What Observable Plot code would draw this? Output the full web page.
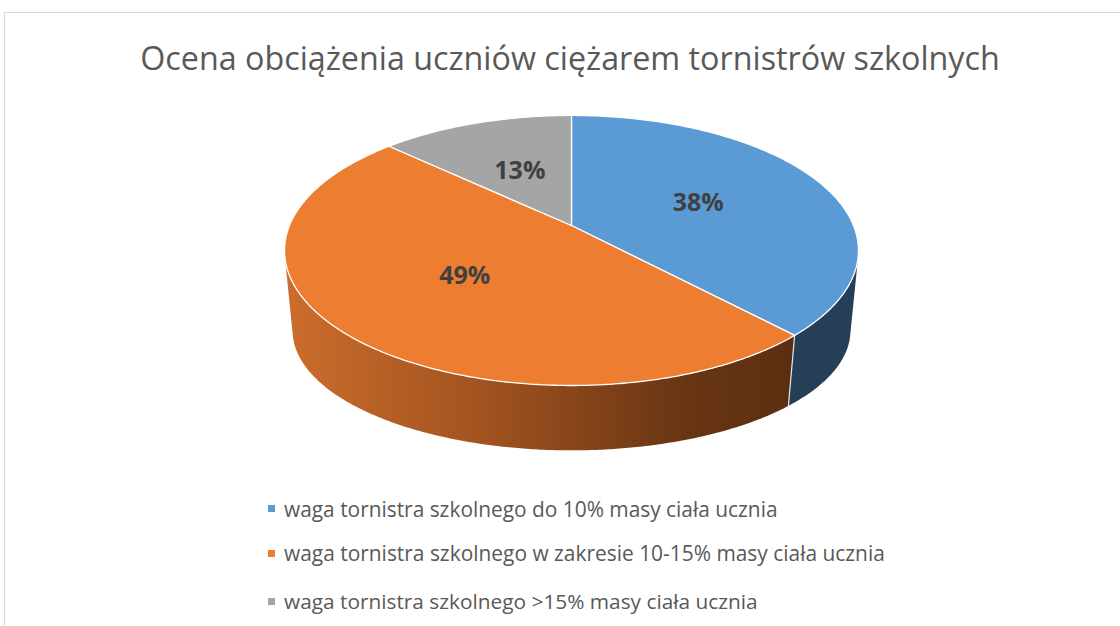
<!DOCTYPE html>
<html>
<head>
<meta charset="utf-8">
<script src="https://cdn.jsdelivr.net/npm/d3@7"></script>
<script src="https://cdn.jsdelivr.net/npm/@observablehq/plot@0.6"></script>
<style>
  html, body { margin: 0; padding: 0; background: #fff; overflow: hidden; }
  #wrap { position: relative; width: 1120px; height: 626px; overflow: hidden; }
  #frame { position: absolute; left: 4px; top: 12px; width: 1200px; height: 700px; border: 1.5px solid #d9d9d9; box-sizing: border-box; }
  #title { position: absolute; left: 10px; width: 1120px; top: 41px; text-align: center; font-family: "Open Sans", sans-serif; font-weight: 400; color: #595959; white-space: nowrap; line-height: 1; }
  #title span { display: inline-block; }
  #chart { position: absolute; left: 0; top: 100px; }
  .leg { position: absolute; left: 268px; font-family: "Open Sans", sans-serif; color: #595959; white-space: nowrap; display: flex; align-items: center; line-height: 1; }
  .leg i { display: inline-block; width: 7px; height: 7px; margin-right: 9px; }
</style>
</head>
<body>
<div id="wrap">
  <div id="frame"></div>
  <div id="chart"></div>
  <div id="title"><span></span></div>
  <div id="legend"></div>
</div>
<script>
// ---- data ----
const titleText = "Ocena obciążenia uczniów ciężarem tornistrów szkolnych";
const categories = [
  "waga tornistra szkolnego do 10% masy ciała ucznia",
  "waga tornistra szkolnego w zakresie 10-15% masy ciała ucznia",
  "waga tornistra szkolnego >15% masy ciała ucznia"
];
const values = [38, 49, 13];
const labels = ["38%", "49%", "13%"];
const colors = ["#5B9BD5", "#ED7D31", "#A5A5A5"];
const sideColors = ["#243F57", "url(#sideOrange)", "#6E6E6E"];

// ---- perspective model of the 3D pie (unit circle) ----
const m = 0.185;
const botScaleU = 0.972, botScaleV = 0.887, botShift = 0.636;
function proj(a, r, bottom) {
  const X = r * Math.sin(a), Z = -r * Math.cos(a);
  const den = 1 - m * Z;
  let u = X / den, v = Z / den;
  if (bottom) { u = u * botScaleU; v = v * botScaleV + botShift; }
  return {u, v};
}
// silhouette angles of the side wall
function silhouette(lo, hi) {
  const f = t => {
    const T = proj(t, 1, false), B = proj(t, 1, true);
    const p = proj(t + 1e-4, 1, false), q = proj(t - 1e-4, 1, false);
    const tu = p.u - q.u, tv = p.v - q.v;
    return (B.u - T.u) * tv - (B.v - T.v) * tu;
  };
  let prev = f(lo);
  for (let t = lo; t <= hi; t += 0.0005) {
    const c = f(t);
    if (Math.sign(c) !== Math.sign(prev)) return t;
    prev = c;
  }
  return (lo + hi) / 2;
}
const tR = silhouette(Math.PI * 0.15, Math.PI * 0.85);
const tL = silhouette(Math.PI * 1.15, Math.PI * 1.85);

const total = d3.sum(values);
let acc = 0;
const slices = values.map((val, i) => {
  const a0 = acc / total * 2 * Math.PI;
  acc += val;
  const a1 = acc / total * 2 * Math.PI;
  return {i, a0, a1, val};
});

function arc(a0, a1, bottom) {
  const n = Math.max(4, Math.ceil(Math.abs(a1 - a0) / (Math.PI / 360)));
  const pts = [];
  for (let k = 0; k <= n; k++) pts.push(proj(a0 + (a1 - a0) * k / n, 1, bottom));
  return pts;
}

const marks = [];
// side walls (visible front part only)
slices.forEach(s => {
  const b0 = Math.max(s.a0, tR), b1 = Math.min(s.a1, tL);
  if (b1 <= b0) return;
  const pts = [...arc(b0, b1, false), ...arc(b1, b0, true)];
  pts.push(pts[0]);
  marks.push(Plot.line(pts, {x: "u", y: "v", fill: sideColors[s.i], stroke: "none", curve: "linear"}));
});
// side boundary lines
const bnd = [];
slices.forEach(s => {
  if (s.a0 > tR && s.a0 < tL)
    [proj(s.a0, 1, false), proj(s.a0, 1, true)].forEach(p => bnd.push({...p, id: s.i}));
});
marks.push(Plot.line(bnd, {x: "u", y: "v", z: "id", stroke: "#e6e6e6", strokeWidth: 1.2}));
// top faces
slices.forEach(s => {
  const pts = [{u: 0, v: 0}, ...arc(s.a0, s.a1, false), {u: 0, v: 0}];
  marks.push(Plot.line(pts, {x: "u", y: "v", fill: colors[s.i], stroke: "white", strokeWidth: 1.3, strokeLinejoin: "round", curve: "linear"}));
});
// labels
const labelData = slices.map(s => ({...proj((s.a0 + s.a1) / 2, 0.5, false), t: labels[s.i]}));
marks.push(Plot.text(labelData, {x: "u", y: "v", text: "t", fill: "#404040", fontSize: 25, fontWeight: "bold", fontFamily: "Open Sans, sans-serif", textAnchor: "middle", lineAnchor: "middle", dy: 1}));

const chart = Plot.plot({
  width: 1120,
  height: 370,
  margin: 0,
  style: {background: "none", overflow: "visible"},
  x: {domain: [-1, 1], range: [289, 853], axis: null},
  y: {domain: [-1, 1], range: [125 - 130.4, 125 + 130.4], axis: null},
  marks
});
chart.insertAdjacentHTML("afterbegin",
  `<defs><linearGradient id="sideOrange" gradientUnits="userSpaceOnUse" x1="284" y1="0" x2="792" y2="0">
     <stop offset="0" stop-color="#CC6D2C"/>
     <stop offset="0.4" stop-color="#A0521F"/>
     <stop offset="0.78" stop-color="#693614"/>
     <stop offset="1" stop-color="#5C2E11"/>
   </linearGradient></defs>`);
document.getElementById("chart").appendChild(chart);

// ---- title ----
const tspan = document.querySelector("#title span");
tspan.textContent = titleText;
function fit(el, target, start) {
  el.style.fontSize = start + "px";
  const w = el.getBoundingClientRect().width;
  el.style.fontSize = (start * target / w) + "px";
}
fit(tspan, 860, 32);

// ---- legend ----
const legend = document.getElementById("legend");
const rowsY = [509, 553, 601];
const legTargets = [494, 601, 474];
categories.forEach((c, i) => {
  const row = document.createElement("div");
  row.className = "leg";
  row.innerHTML = `<i style="background:${colors[i]}"></i><span>${c}</span>`;
  legend.appendChild(row);
  const sp = row.querySelector("span");
  fit(sp, legTargets[i], 19);
  const h = row.getBoundingClientRect().height;
  row.style.top = (rowsY[i] - h / 2) + "px";
});
</script>
</body>
</html>
